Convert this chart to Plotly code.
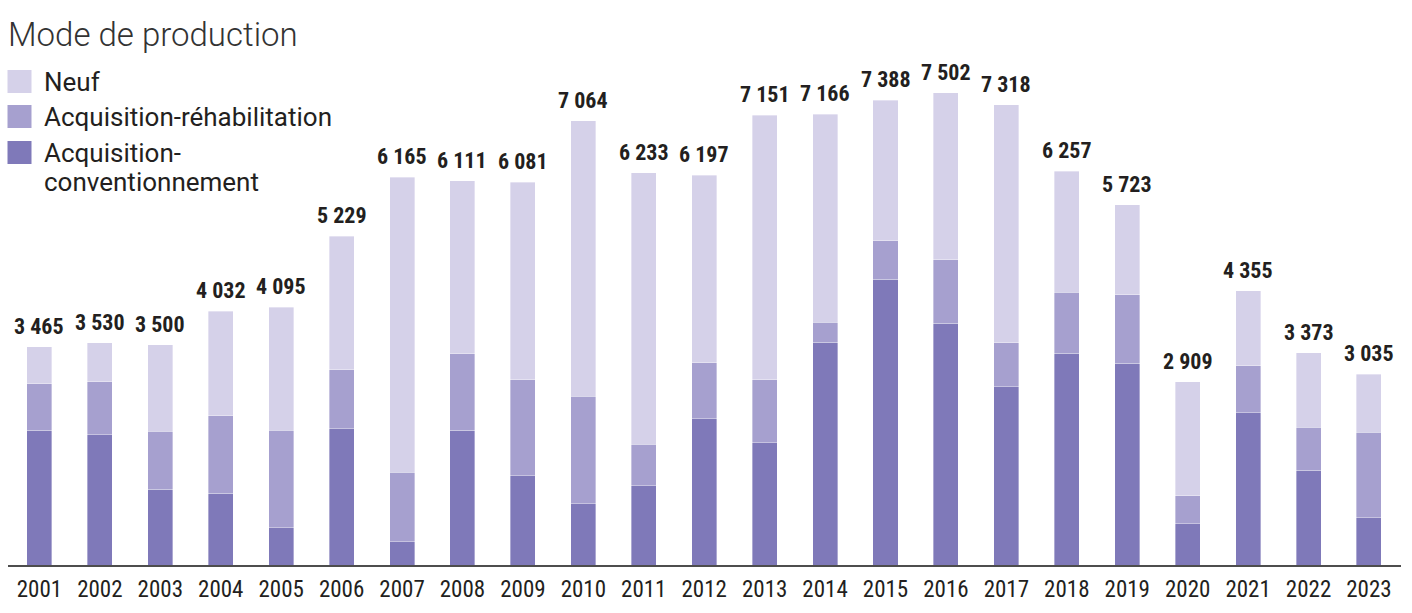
import plotly.graph_objects as go

years = [str(y) for y in range(2001, 2024)]
totals = [3465, 3530, 3500, 4032, 4095, 5229, 6165, 6111, 6081, 7064, 6233, 6197,
          7151, 7166, 7388, 7502, 7318, 6257, 5723, 2909, 4355, 3373, 3035]
conv = [2139, 2071, 1208, 1144, 593, 2166, 370, 2139, 1419, 974, 1256, 2325,
        1944, 3538, 4539, 3840, 2834, 3363, 3204, 656, 2420, 1503, 751]
rehab = [742, 842, 916, 1229, 1546, 938, 1108, 1219, 1526, 1706, 667, 890,
         1001, 318, 615, 1012, 699, 970, 1092, 445, 747, 684, 1356]
neuf = [584, 617, 1376, 1659, 1956, 2125, 4687, 2753, 3136, 4384, 4310, 2982,
        4206, 3310, 2234, 2650, 3785, 1924, 1427, 1808, 1188, 1186, 928]

colors = {"Neuf": "#d5d1e9", "Acquisition-réhabilitation": "#a6a0cf",
          "Acquisition-conventionnement": "#7f79b9"}

W, H = 1412, 613
ML, MR, MT, MB = 8, 11, 0, 48
PW = W - ML - MR
PH = H - MT - MB

fig = go.Figure()
for name, vals in [("Acquisition-conventionnement", conv),
                   ("Acquisition-réhabilitation", rehab),
                   ("Neuf", neuf)]:
    fig.add_trace(go.Bar(x=years, y=vals, name=name,
                         marker=dict(color=colors[name], line=dict(width=0.6, color="rgba(255,255,255,0.6)")),
                         showlegend=False, hoverinfo="x+y+name"))

label_font = dict(family="Roboto Condensed, Roboto, sans-serif", size=22, color="#231f20", weight=700)
for i, t in enumerate(totals):
    fig.add_annotation(x=i, y=t, xref="x", yref="y", text=f"{t:,}".replace(",", " "), showarrow=False,
                       yanchor="bottom", yshift=6, font=label_font)

def px_x(p):
    return (p - ML) / PW

def px_y(p):
    return (MT + PH - p) / PH

# title
fig.add_annotation(x=px_x(6), y=px_y(34), xref="paper", yref="paper", text="Mode de production",
                   showarrow=False, xanchor="left", yanchor="middle",
                   font=dict(family="Roboto, sans-serif", size=33, color="#333333", weight=300))

# legend
leg_font = dict(family="Roboto, sans-serif", size=26, color="#231f20")
leg_items = [("Neuf", 70, 93, [("Neuf", 82)]),
             ("Acquisition-réhabilitation", 105, 128, [("Acquisition-réhabilitation", 117)]),
             ("Acquisition-conventionnement", 141, 164, [("Acquisition-", 153), ("conventionnement", 182)])]
for name, y0, y1, lines in leg_items:
    fig.add_shape(type="rect", xref="paper", yref="paper",
                  x0=px_x(7.5), x1=px_x(31.5), y0=px_y(y1), y1=px_y(y0),
                  fillcolor=colors[name], line=dict(width=0))
    for txt, yc in lines:
        fig.add_annotation(x=px_x(42), y=px_y(yc), xref="paper", yref="paper", text=txt,
                           showarrow=False, xanchor="left", yanchor="middle", font=leg_font)

fig.update_layout(
    width=W, height=H, autosize=False,
    margin=dict(l=ML, r=MR, t=MT, b=MB, pad=0),
    barmode="stack", bargap=0.586,
    plot_bgcolor="white", paper_bgcolor="white",
    xaxis=dict(type="category", range=[-0.52, 22.53], showline=True, linecolor="#4d4d4d",
               linewidth=1.5, ticks="", showgrid=False, zeroline=False, ticklabelstandoff=3,
               tickfont=dict(family="Roboto Condensed, Roboto, sans-serif", size=23, color="#231f20"),
               fixedrange=True),
    yaxis=dict(range=[0, 8980], visible=False, showgrid=False, zeroline=False, fixedrange=True),
)

fig.write_html("out.html")
